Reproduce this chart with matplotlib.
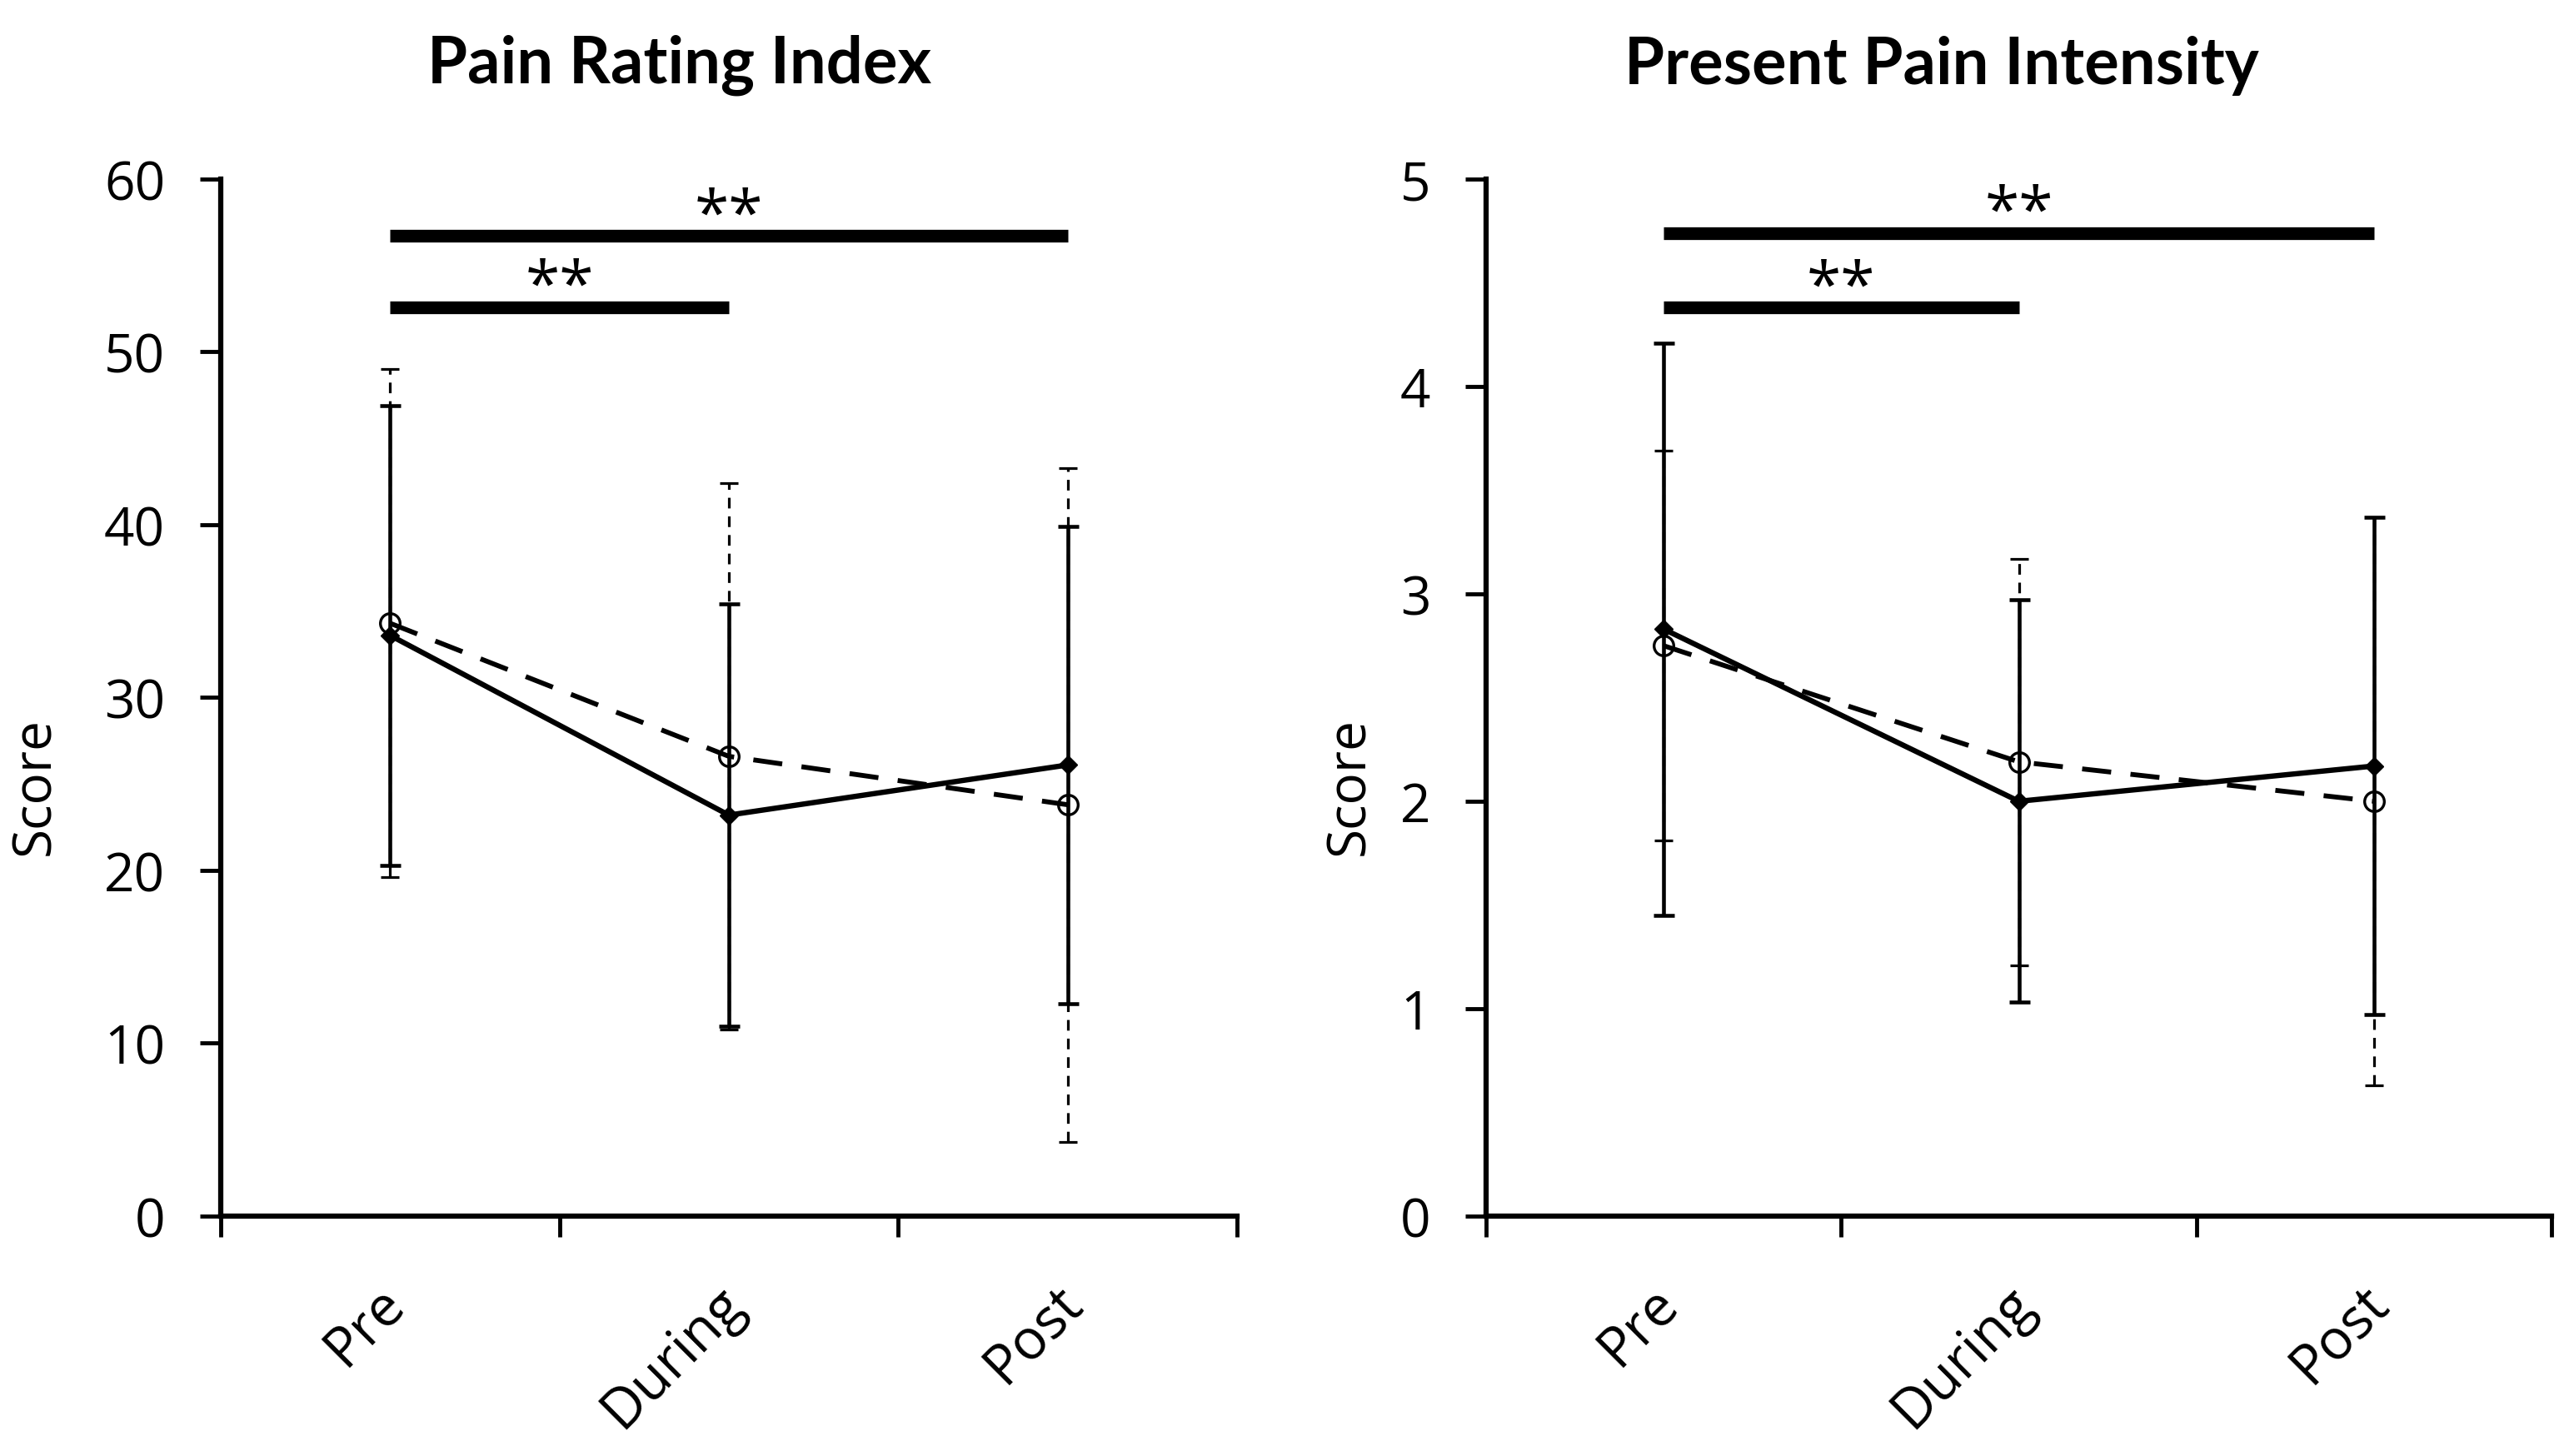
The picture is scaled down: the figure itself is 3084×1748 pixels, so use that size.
import matplotlib
matplotlib.use("Agg")
import matplotlib.pyplot as plt
import matplotlib.transforms as mtransforms
import numpy as np

fases = ["Pre", "During", "Post"]

# Pain Rating Index
pri_solid = [33.6, 23.2, 26.1]
pri_solid_sd = [13.3, 12.2, 13.8]
pri_dash = [34.3, 26.6, 23.8]
pri_dash_sd = [14.7, 15.8, 19.5]

# Present Pain Intensity
ppi_solid = [2.83, 2.00, 2.17]
ppi_solid_sd = [1.38, 0.97, 1.20]
ppi_dash = [2.75, 2.19, 2.00]
ppi_dash_sd = [0.94, 0.98, 1.37]

# comparacoes significativas: (inicio, fim, altura)
pri_barras = [(0, 2, 56.7), (0, 1, 52.6)]
ppi_barras = [(0, 2, 4.74), (0, 1, 4.38)]

plt.rcParams['font.family'] = ['Open Sans', 'DejaVu Sans']

fig = plt.figure(figsize=(30.84, 17.49), dpi=100)
ax1 = fig.add_axes([0.0859, 0.1647, 0.3956, 0.7118])
ax2 = fig.add_axes([0.5785, 0.1647, 0.4147, 0.7118])


def desenhar(ax, solid, solid_sd, dash, dash_sd, barras, ymax, passo,
             titulo, tx, lx):
    x = np.arange(len(fases))

    e = ax.errorbar(x, dash, yerr=dash_sd, fmt='none', ecolor='black',
                    elinewidth=2.3, capsize=8, capthick=2.3, zorder=2)
    e[2][0].set_linestyle((0, (4, 3)))
    ax.errorbar(x, solid, yerr=solid_sd, fmt='none', ecolor='black',
                elinewidth=3.3, capsize=9, capthick=3.3, zorder=3)

    ax.plot(x, dash, color='black', lw=4.2, ls=(0, (6, 4)), marker='o',
            markersize=17, markerfacecolor='none', markeredgewidth=2.4,
            zorder=4)
    ax.plot(x, solid, color='black', lw=4.6, marker='D', markersize=11,
            zorder=5)

    altura = ymax * 0.018
    for ini, fim, y in barras:
        ax.plot([ini, fim], [y, y], color='black', lw=11,
                solid_capstyle='butt', zorder=6)
        ax.text((ini + fim) / 2, y + altura, "**", ha='center', va='center',
                fontsize=54, zorder=6)

    ax.set_xlim(-0.5, 2.5)
    ax.set_ylim(0, ymax)
    ax.set_yticks(np.arange(0, ymax + passo / 2, passo))
    ax.set_xticks(x)
    ax.set_xticklabels(fases, rotation=45, ha='right', rotation_mode='anchor')
    ax.set_xticks([-0.5, 0.5, 1.5, 2.5], minor=True)
    ax.tick_params(axis='x', which='major', length=0, pad=38, labelsize=48)
    ax.tick_params(axis='x', which='minor', length=18, width=3.5)
    ax.tick_params(axis='y', length=18, width=3.5, pad=30, labelsize=46)

    # empurra os rotulos um pouco para a esquerda e para baixo
    desloc = mtransforms.ScaledTranslation(-0.16, -0.18, fig.dpi_scale_trans)
    for lab in ax.get_xticklabels():
        lab.set_transform(lab.get_transform() + desloc)

    for lado in ['top', 'right']:
        ax.spines[lado].set_visible(False)
    for lado in ['left', 'bottom']:
        ax.spines[lado].set_linewidth(4.5)

    ax.set_ylabel("Score", fontsize=46)
    ax.yaxis.set_label_coords(lx, 0.415)
    fig.text(tx, 0.955, titulo, ha='center', va='center', fontsize=56,
             fontweight='bold', family=['Lato', 'DejaVu Sans'])


desenhar(ax1, pri_solid, pri_solid_sd, pri_dash, pri_dash_sd, pri_barras,
         60, 10, "Pain Rating Index", 0.2646, -0.156)
desenhar(ax2, ppi_solid, ppi_solid_sd, ppi_dash, ppi_dash_sd, ppi_barras,
         5, 1, "Present Pain Intensity", 0.7558, -0.103)

fig.savefig("out.png", dpi=100, facecolor='white')
